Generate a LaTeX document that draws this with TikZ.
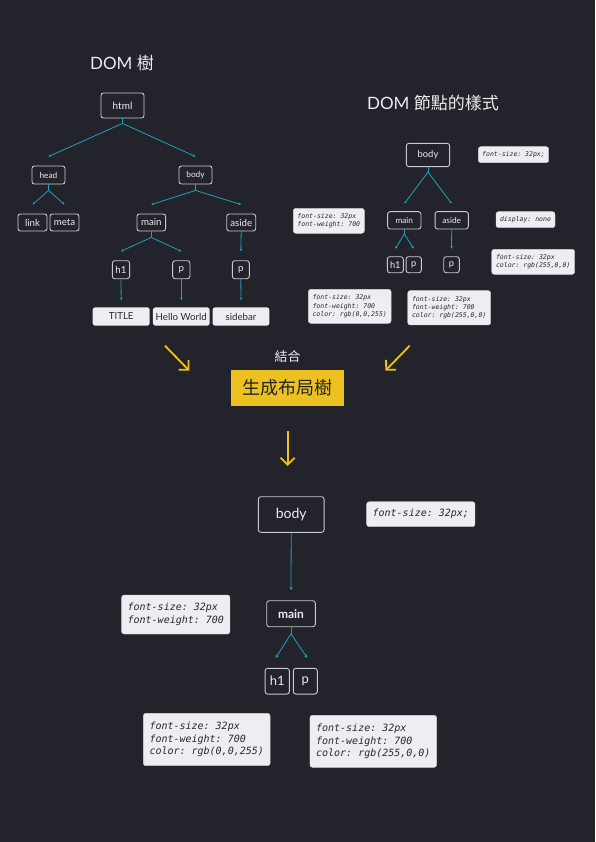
\documentclass[tikz,border=0pt]{standalone}
\usepackage{fontspec}
\setmainfont{Lato}
\setmonofont{DejaVu Sans Mono}
\newfontfamily\cjk{Noto Sans CJK TC}
\usetikzlibrary{arrows.meta,calc}
\definecolor{bg}{RGB}{35,35,43}
\definecolor{boxline}{RGB}{200,200,206}
\definecolor{txt}{RGB}{236,236,240}
\definecolor{teal}{RGB}{30,162,182}
\definecolor{yel}{RGB}{236,193,32}
\definecolor{card}{RGB}{238,237,241}
\definecolor{cardtxt}{RGB}{40,40,55}
\newcommand{\fs}[1]{\fontsize{#1}{#1}\selectfont}
\newcommand{\ms}[2]{\ttfamily\itshape\fontsize{#1}{#2}\selectfont}
\tikzset{
  tnode/.style={draw=boxline, fill=bg, rounded corners=2.5pt, line width=0.9pt, text=txt, inner sep=0pt},
  leaf/.style={fill=card, rounded corners=2.5pt, text=cardtxt, inner sep=0pt},
  cardbox/.style={fill=card, draw=boxline!70!card, line width=0.4pt, rounded corners=2.5pt, text=cardtxt, inner sep=0pt, align=left},
  conn/.style={draw=teal, line width=0.8pt},
  tip/.style={-{Stealth[length=2.6pt,width=2.6pt]}},
  bigtip/.style={-{Stealth[length=3.4pt,width=3.4pt]}},
  yarrow/.style={draw=yel, line width=1.8pt, -{Straight Barb[length=7pt,width=14pt,line width=1.8pt]}},
}
\begin{document}
\begin{tikzpicture}[x=1pt,y=-1pt]
\fill[bg] (0,0) rectangle (595,842);
\useasboundingbox (0,0) rectangle (595,842);

% ---------- titles
\node[text=txt, font=\fs{17}] (t1) at (122,63) {DOM {\cjk 樹}};
\node[text=txt, font=\fs{17}] (t2) at (433,103) {DOM {\cjk 節點的樣式}};

% ---------- left DOM tree
\node[tnode, minimum width=43pt, minimum height=25pt, font=\fs{10}] (html) at (122.5,105.5) {html};
\node[tnode, minimum width=33pt, minimum height=18pt, font=\fs{8.3}] (head) at (48.5,175) {head};
\node[tnode, minimum width=33pt, minimum height=18pt, font=\fs{8.3}] (lbody) at (195.5,175) {body};
\node[tnode, minimum width=29pt, minimum height=17pt, font=\fs{9.7}] (link) at (32.5,222.5) {link};
\node[tnode, minimum width=29pt, minimum height=17pt, font=\fs{9.7}] (meta) at (64.5,222.5) {meta};
\node[tnode, minimum width=28.7pt, minimum height=17pt, font=\fs{9.7}] (lmain) at (151.3,222.5) {main};
\node[tnode, minimum width=29pt, minimum height=17pt, font=\fs{9.7}] (laside) at (241.2,222.5) {aside};
\node[tnode, minimum width=17.3pt, minimum height=18pt, font=\fs{9.7}] (lh1) at (121,269.7) {h1};
\node[tnode, minimum width=17.3pt, minimum height=18pt, font=\fs{9.7}] (lp) at (181.3,269.7) {p};
\node[tnode, minimum width=17pt, minimum height=18pt, font=\fs{9.7}] (lp2) at (240.8,269.7) {p};
\node[leaf, minimum width=57pt, minimum height=18.3pt, font=\fs{9.7}] (title) at (121.2,316.5) {TITLE};
\node[leaf, minimum width=56.7pt, minimum height=18.3pt, font=\fs{9.7}] (hello) at (181.3,316.5) {Hello World};
\node[leaf, minimum width=56.7pt, minimum height=18.3pt, font=\fs{9.7}] (sidebar) at (241,316.5) {sidebar};

\draw[conn] (html.south) -- ++(0,5) coordinate (fa);
\draw[conn,tip] (fa) -- ($(head.north)+(0,-9)$);
\draw[conn,tip] (fa) -- ($(lbody.north)+(0,-9)$);
\draw[conn] (head.south) -- ++(0,6) coordinate (fb);
\draw[conn,tip] (fb) -- ($(link.north)+(0,-9)$);
\draw[conn,tip] (fb) -- ($(meta.north)+(0,-9)$);
\draw[conn] (lbody.south) -- ++(0,6) coordinate (fc);
\draw[conn,tip] (fc) -- ($(lmain.north)+(0,-9)$);
\draw[conn,tip] (fc) -- ($(laside.north)+(0,-9)$);
\draw[conn] (lmain.south) -- ++(0,6) coordinate (fd);
\draw[conn,tip] (fd) -- ($(lh1.north)+(0,-9)$);
\draw[conn,tip] (fd) -- ($(lp.north)+(0,-9)$);
\draw[conn,tip] (laside.south) -- ($(lp2.north)+(0,-9)$);
\draw[conn,tip] (lh1.south) -- ($(title.north)+(0,-7)$);
\draw[conn,tip] (lp.south) -- ($(hello.north)+(0,-7)$);
\draw[conn,tip] (lp2.south) -- ($(sidebar.north)+(0,-7)$);

% ---------- right styled tree
\node[tnode, minimum width=43.3pt, minimum height=23.3pt, font=\fs{9.4}] (rbody) at (428,155) {body};
\node[tnode, minimum width=33.3pt, minimum height=17.3pt, font=\fs{8.3}] (rmain) at (404.3,220.3) {main};
\node[tnode, minimum width=33.3pt, minimum height=17.3pt, font=\fs{8.3}] (raside) at (451.7,220.3) {aside};
\node[tnode, minimum width=16pt, minimum height=16pt, font=\fs{9.3}] (rh1) at (395.3,264.7) {h1};
\node[tnode, minimum width=15.3pt, minimum height=16pt, font=\fs{9.3}] (rp) at (413.7,264.7) {p};
\node[tnode, minimum width=15.6pt, minimum height=16pt, font=\fs{9.3}] (rp2) at (451.5,264.7) {p};

\draw[conn] (rbody.south) -- ++(0,5) coordinate (ga);
\draw[conn,tip] (ga) -- ($(rmain.north)+(0,-7.5)$);
\draw[conn,tip] (ga) -- ($(raside.north)+(0,-7.5)$);
\draw[conn] (rmain.south) -- ++(0,4.5) coordinate (gb);
\draw[conn,tip] (gb) -- ($(rh1.north)+(0,-7.5)$);
\draw[conn,tip] (gb) -- ($(rp.north)+(0,-7.5)$);
\draw[conn,tip] (raside.south) -- ($(rp2.north)+(0,-7.5)$);

\node[cardbox, minimum width=70.4pt, minimum height=16pt, font=\ms{6.5}{8.3}] (c1) at (513.5,154.7) {font-size: 32px;};
\node[cardbox, minimum width=71pt, minimum height=25pt, font=\ms{6.5}{8.3}] (c2) at (328.8,220.8) {font-size: 32px\\font-weight: 700};
\node[cardbox, minimum width=59pt, minimum height=16pt, font=\ms{6.5}{8.3}] (c3) at (525.5,219.7) {display: none};
\node[cardbox, minimum width=83pt, minimum height=25pt, font=\ms{6.5}{8.3}] (c4) at (533.2,261.8) {font-size: 32px\\color: rgb(255,0,0)};
\node[cardbox, minimum width=82.7pt, minimum height=34pt, font=\ms{6.5}{8.3}] (c5) at (349.7,306.3) {font-size: 32px\\font-weight: 700\\color: rgb(0,0,255)};
\node[cardbox, minimum width=83pt, minimum height=34.3pt, font=\ms{6.5}{8.3}] (c6) at (449.2,307.8) {font-size: 32px\\font-weight: 700\\color: rgb(255,0,0)};

% ---------- combine
\node[text=txt, font={\cjk\fs{13}}] (jh) at (287.7,357) {結合};
\node[fill=yel, minimum width=113pt, minimum height=36pt, inner sep=0pt, text=bg, font={\cjk\fs{18}}] (gen) at (287.5,388) {生成布局樹};
\coordinate (ya1) at (165,345.7);
\coordinate (ya2) at (189.3,370.7);
\coordinate (yb1) at (409.7,345.7);
\coordinate (yb2) at (385.3,370.7);
\coordinate (yc1) at (287.7,431);
\coordinate (yc2) at (287.7,466);
\draw[yarrow] (ya1) -- (ya2);
\draw[yarrow] (yb1) -- (yb2);
\draw[yarrow] (yc1) -- (yc2);

% ---------- render tree
\node[tnode, minimum width=65.7pt, minimum height=35.6pt, font=\fs{14}] (bbody) at (291.2,514.5) {body};
\node[tnode, minimum width=48.6pt, minimum height=26pt, font=\bfseries\fs{12}] (bmain) at (291,613.7) {main};
\node[tnode, minimum width=24.3pt, minimum height=25.7pt, font=\fs{13}] (bh1) at (277.2,681.2) {h1};
\node[tnode, minimum width=24pt, minimum height=25.7pt, font=\fs{13}] (bp) at (305.3,681.2) {p};

\draw[conn,bigtip] (bbody.south) -- ($(bmain.north)+(0,-10)$);
\draw[conn] (bmain.south) -- ++(0,6.7) coordinate (ha);
\draw[conn,bigtip] (ha) -- ($(bh1.north)+(-1.5,-10)$);
\draw[conn,bigtip] (ha) -- ($(bp.north)+(2,-10)$);

\node[cardbox, minimum width=108.3pt, minimum height=25pt, font=\ms{10}{12.7}] (d1) at (420.8,514.2) {font-size: 32px;};
\node[cardbox, minimum width=108.3pt, minimum height=39pt, font=\ms{10}{12.7}] (d2) at (175.8,614.5) {font-size: 32px\\font-weight: 700};
\node[cardbox, minimum width=126.7pt, minimum height=52.4pt, font=\ms{10}{12.7}] (d3) at (206.7,739.5) {font-size: 32px\\font-weight: 700\\color: rgb(0,0,255)};
\node[cardbox, minimum width=126.7pt, minimum height=52pt, font=\ms{10}{12.7}] (d4) at (373.3,741.3) {font-size: 32px\\font-weight: 700\\color: rgb(255,0,0)};
\end{tikzpicture}
\end{document}
